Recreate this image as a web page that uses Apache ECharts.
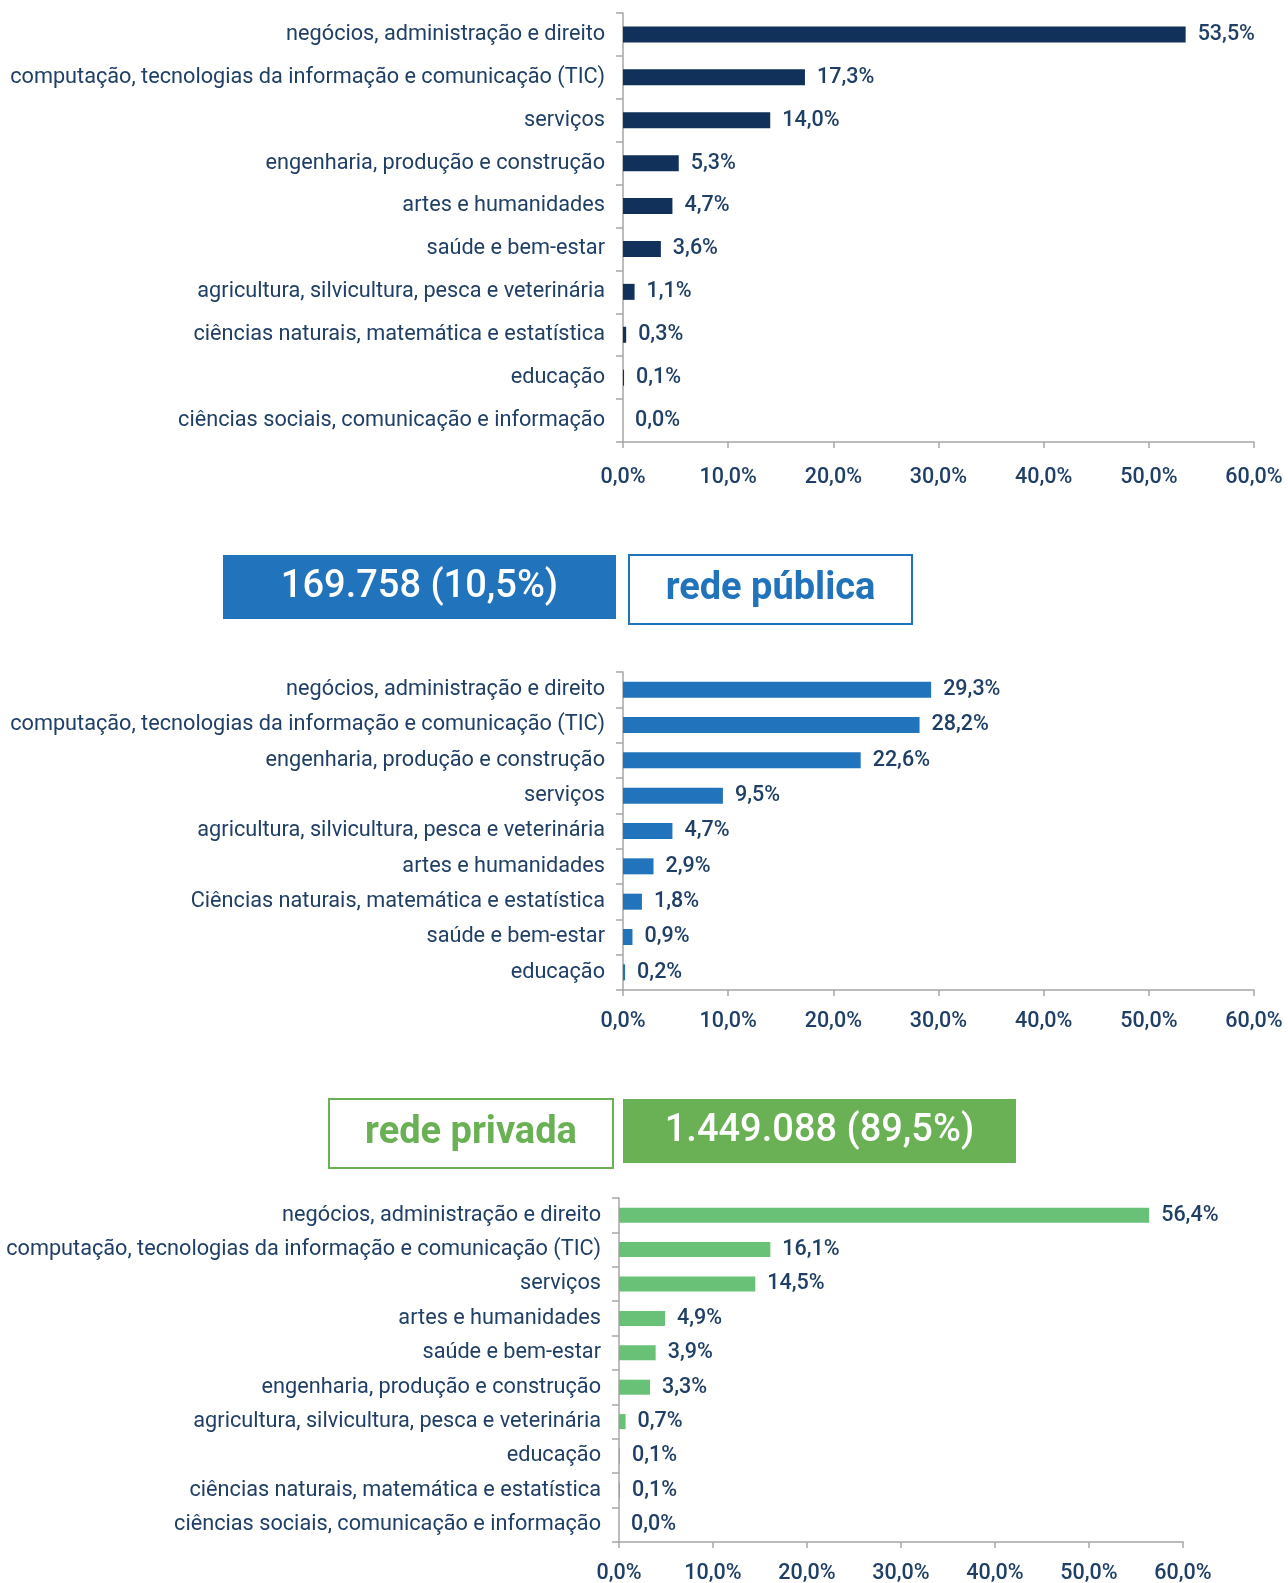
<!DOCTYPE html>
<html>
<head>
<meta charset="utf-8">
<script src="https://cdn.jsdelivr.net/npm/echarts@6/dist/echarts.min.js"></script>
<style>
  html, body { margin: 0; padding: 0; background: #fff; }
  #chart { width: 1288px; height: 1583px; }
</style>
</head>
<body>
<div id="chart"></div>
<script>
// total (all institutions)
const totalCategories = [
  'negócios, administração e direito',
  'computação, tecnologias da informação e comunicação (TIC)',
  'serviços',
  'engenharia, produção e construção',
  'artes e humanidades',
  'saúde e bem-estar',
  'agricultura, silvicultura, pesca e veterinária',
  'ciências naturais, matemática e estatística',
  'educação',
  'ciências sociais, comunicação e informação'
];
const totalValues = [53.5, 17.3, 14.0, 5.3, 4.7, 3.6, 1.1, 0.3, 0.1, 0.0];

// rede pública
const publicCategories = [
  'negócios, administração e direito',
  'computação, tecnologias da informação e comunicação (TIC)',
  'engenharia, produção e construção',
  'serviços',
  'agricultura, silvicultura, pesca e veterinária',
  'artes e humanidades',
  'Ciências naturais, matemática e estatística',
  'saúde e bem-estar',
  'educação'
];
const publicValues = [29.3, 28.2, 22.6, 9.5, 4.7, 2.9, 1.8, 0.9, 0.2];

// rede privada
const privateCategories = [
  'negócios, administração e direito',
  'computação, tecnologias da informação e comunicação (TIC)',
  'serviços',
  'artes e humanidades',
  'saúde e bem-estar',
  'engenharia, produção e construção',
  'agricultura, silvicultura, pesca e veterinária',
  'educação',
  'ciências naturais, matemática e estatística',
  'ciências sociais, comunicação e informação'
];
const privateValues = [56.4, 16.1, 14.5, 4.9, 3.9, 3.3, 0.7, 0.1, 0.1, 0.0];

const xTicks = [0, 10, 20, 30, 40, 50, 60];
const publicBanner = ['169.758 (10,5%)', 'rede pública'];
const privateBanner = ['rede privada', '1.449.088 (89,5%)'];

const textColor = '#1f3f66';
const axisColor = '#a6a6a6';
const fmt = (v) => v.toFixed(1).replace('.', ',') + '%';

const myChart = echarts.init(document.getElementById('chart'));

const grids = [
  { left: 623, right: 34, top: 13, height: 429, outerBoundsMode: 'none' },
  { left: 623, right: 34, top: 672, height: 318, outerBoundsMode: 'none' },
  { left: 619, right: 105, top: 1198, height: 344, outerBoundsMode: 'none' }
];

function xAxis(i, margin) {
  return {
    type: 'value', gridIndex: i, min: xTicks[0], max: xTicks[xTicks.length - 1], interval: 10,
    axisLine: { show: true, lineStyle: { color: axisColor, width: 1.5 } },
    axisTick: { show: true, length: 6, lineStyle: { color: axisColor, width: 1.5 } },
    splitLine: { show: false },
    axisLabel: {
      color: textColor, fontSize: 21.5, fontWeight: 500, margin: margin,
      fontFamily: 'Roboto', formatter: (v) => fmt(v)
    }
  };
}

function yAxis(i, cats) {
  return {
    type: 'category', gridIndex: i, data: cats, inverse: true,
    axisLine: { show: true, lineStyle: { color: axisColor, width: 1.5 } },
    axisTick: { show: true, length: 7, lineStyle: { color: axisColor, width: 1.5 } },
    axisLabel: { color: textColor, fontSize: 21.7, margin: 18, fontFamily: 'Roboto' }
  };
}

function series(i, vals, color, width) {
  return {
    type: 'bar', xAxisIndex: i, yAxisIndex: i, data: vals, barWidth: width,
    itemStyle: { color: color },
    label: {
      show: true, position: 'right', distance: 12, color: textColor,
      fontSize: 21.5, fontWeight: 500, fontFamily: 'Roboto',
      formatter: (p) => fmt(p.value)
    },
    silent: true
  };
}

function banner(x, y, w, h, filled, color, text) {
  return {
    type: 'group', left: x, top: y,
    children: [
      {
        type: 'rect', shape: { x: 0, y: 0, width: w, height: h },
        style: filled ? { fill: color } : { fill: '#fff', stroke: color, lineWidth: 2 }
      },
      {
        type: 'text', x: w / 2, y: h / 2,
        style: {
          text: text, fill: filled ? '#fff' : color, fontSize: 38,
          fontWeight: filled ? 500 : 'bold', fontFamily: 'Roboto',
          align: 'center', verticalAlign: 'middle'
        }
      }
    ]
  };
}

const option = {
  animation: false,
  grid: grids,
  xAxis: [xAxis(0, 25), xAxis(1, 21), xAxis(2, 21)],
  yAxis: [yAxis(0, totalCategories), yAxis(1, publicCategories), yAxis(2, privateCategories)],
  series: [
    series(0, totalValues, '#11305a', 16),
    series(1, publicValues, '#2173bb', 16),
    series(2, privateValues, '#68c177', 15)
  ],
  graphic: [
    banner(223, 555, 393, 64, true, '#2173bb', publicBanner[0]),
    banner(628, 554, 283, 69, false, '#2173bb', publicBanner[1]),
    banner(328, 1098, 284, 69, false, '#6ab155', privateBanner[0]),
    banner(623, 1099, 393, 64, true, '#6ab155', privateBanner[1])
  ]
};

myChart.setOption(option);

window.addEventListener('resize', () => {
  myChart.resize();
});
</script>
</body>
</html>
